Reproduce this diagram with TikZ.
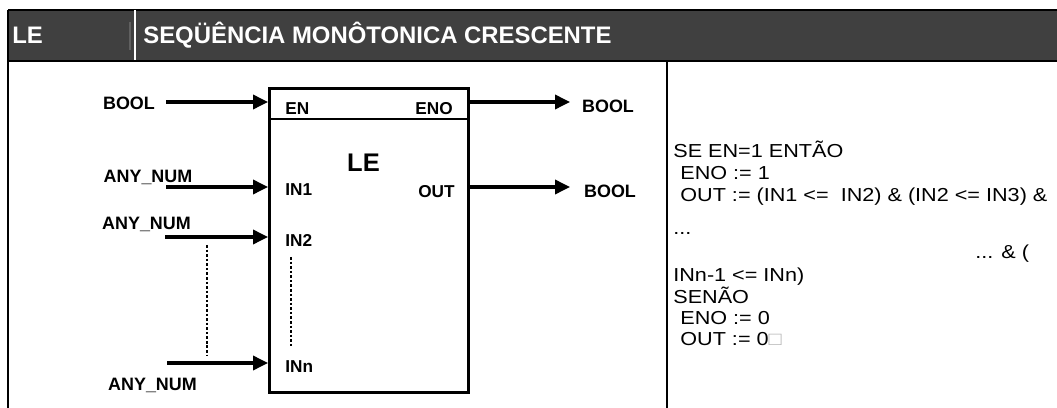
\documentclass[tikz,border=0pt]{standalone}
\usepackage{fontspec}
\setmainfont{Liberation Sans}
\newfontfamily\codefont[FakeStretch=1.15]{Liberation Sans}
\usepackage{tikz}
\usetikzlibrary{arrows.meta, positioning, calc}
\definecolor{hdrgray}{RGB}{64,64,64}
\definecolor{hdrline}{RGB}{96,96,96}
\tikzset{
  hdrtext/.style={text=white, font=\fontsize{13.6}{16}\selectfont\bfseries, anchor=base west, inner sep=0pt},
  pin/.style={font=\fontsize{9.8}{11}\selectfont\bfseries, inner sep=0pt},
  dtype/.style={font=\fontsize{10.2}{12}\selectfont\bfseries, inner sep=0pt, anchor=base},
  wire/.style={line width=1.8pt, -{Triangle[length=8.5pt,width=8pt]}},
  dotline/.style={line width=1.7pt, dash pattern=on 1.5pt off 1.1pt},
  codeline/.style={font=\codefont\fontsize{10.7}{12}\selectfont, anchor=base west, inner sep=0pt}
}

\begin{document}
\begin{tikzpicture}[x=0.02cm, y=-0.02cm]
    \useasboundingbox (0,0) rectangle (1057,408);

    % Cabecalho
    \fill[hdrgray] (8,10) rectangle (1057,61);
    \draw[line width=0.6pt] (8,10) -- (1057,10);
    \draw[hdrline, line width=0.6pt] (130,22) -- (130,50);
    \draw[white, line width=1.2pt] (135,10) -- (135,61);
    \node[hdrtext] (hname) at (12,43.3) {LE};
    \node[hdrtext] (htitle) at (143,43.3) {SEQÜÊNCIA MONÔTONICA CRESCENTE};

    % Moldura
    \draw[line width=1.3pt] (8,10) -- (8,408);
    \draw[line width=1.3pt] (8,61) -- (1057,61);
    \draw[line width=1.2pt] (667,61) -- (667,408);

    % Bloco LE
    \node[draw, line width=1.5pt, minimum width=3.98cm, minimum height=6.08cm,
          inner sep=0pt, anchor=north west] (blk) at (268,87) {};
    \draw[line width=1.5pt] (blk.west |- 0,119) -- (blk.east |- 0,119);
    \node[font=\fontsize{14.5}{17}\selectfont\bfseries, inner sep=0pt] (bname) at (363.5,163) {LE};

    \node[pin, anchor=west] (en) at (285,108.7) {EN};
    \node[pin, anchor=east] (eno) at (453,108.7) {ENO};
    \node[pin, anchor=west] (in1) at (285,190) {IN1};
    \node[pin, anchor=east] (out) at (455,192) {OUT};
    \node[pin, anchor=west] (in2) at (285,240) {IN2};
    \node[pin, anchor=west] (inn) at (285,367) {INn};

    % Entradas
    \node[dtype] (tEN) at (129,109.3) {BOOL};
    \node[dtype] (tIN1) at (148,182.7) {ANY\_NUM};
    \node[dtype] (tIN2) at (146.5,229.3) {ANY\_NUM};
    \node[dtype] (tINn) at (152.5,390.5) {ANY\_NUM};

    \coordinate (sEN) at (166,102);
    \coordinate (sIN1) at (166,187);
    \coordinate (sIN2) at (165,237);
    \coordinate (sINn) at (167,363);
    \draw[wire] (sEN) -- (sEN -| blk.west);
    \draw[wire] (sIN1) -- (sIN1 -| blk.west);
    \draw[wire] (sIN2) -- (sIN2 -| blk.west);
    \draw[wire] (sINn) -- (sINn -| blk.west);

    \draw[dotline] (207,245) -- (207,355);
    \draw[dotline] (291,257) -- (291,348);

    % Saidas
    \coordinate (eENO) at (570,102);
    \coordinate (eOUT) at (570,187);
    \draw[wire] (eENO -| blk.east) -- (eENO);
    \draw[wire] (eOUT -| blk.east) -- (eOUT);
    \node[dtype] (tENO) at (608,112.3) {BOOL};
    \node[dtype] (tOUT) at (610,197.7) {BOOL};

    % Descricao
    \node[codeline] (c1) at (673,157.5) {SE EN=1 ENTÃO};
    \node[codeline] (c2) at (680,179.5) {ENO := 1};
    \node[codeline] (c3) at (680,201.5) {OUT := (IN1 <=\ \ IN2) \& (IN2 <= IN3) \&};
    \node[codeline] (c4) at (673,235) {...};
    \node[codeline] (c5) at (975,259) {... \& (};
    \node[codeline] (c6) at (673,281.5) {INn-1 <= INn)};
    \node[codeline] (c7) at (673,303) {SENÃO};
    \node[codeline] (c8) at (680,324) {ENO := 0};
    \node[codeline] (c9) at (680,345.5) {OUT := 0{\color{gray!60}□}};

\end{tikzpicture}
\end{document}
